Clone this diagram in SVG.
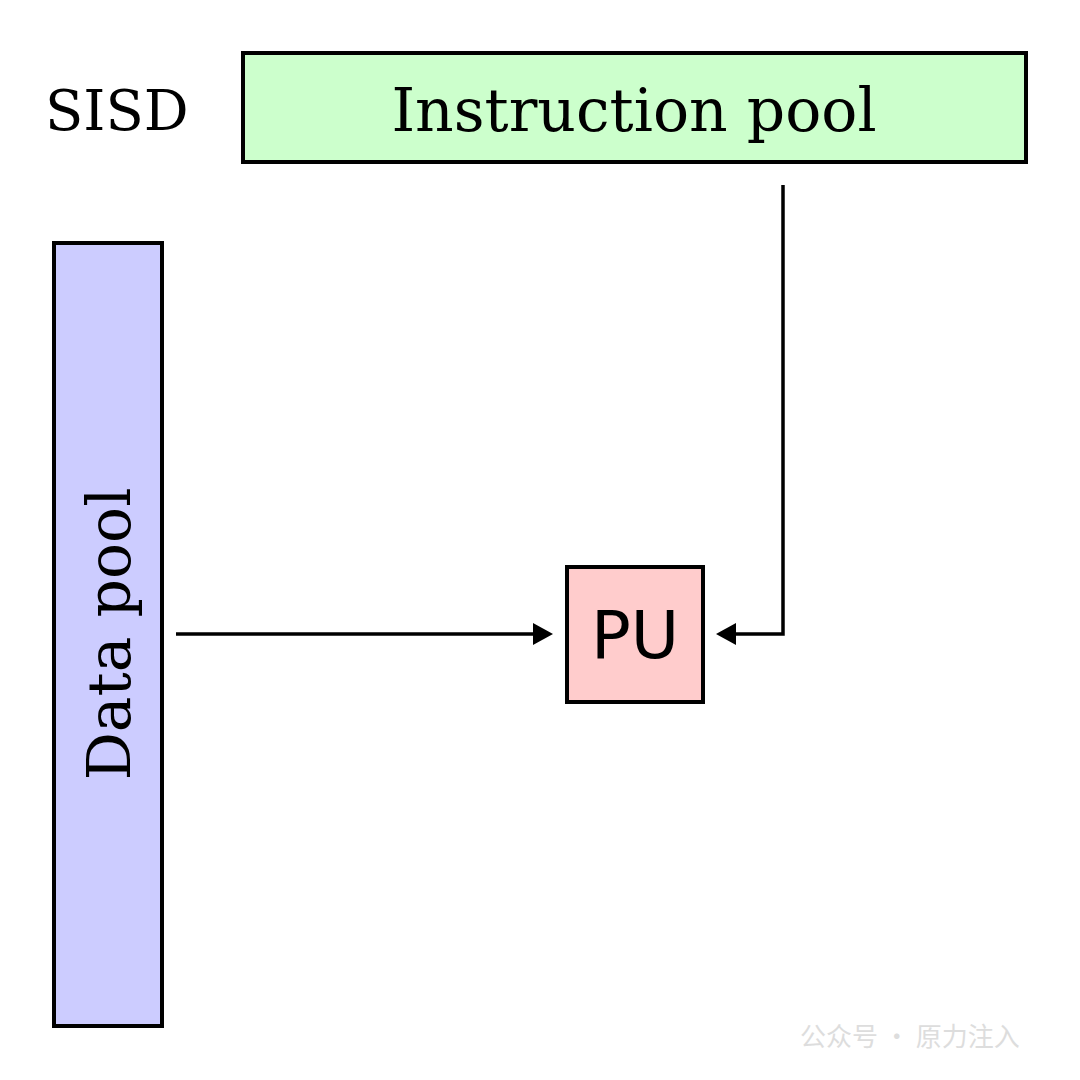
<svg xmlns="http://www.w3.org/2000/svg" width="1080" height="1080" viewBox="0 0 1080 1080">
<style>
.box{stroke:#000;stroke-width:4}
.serif{font-family:"DejaVu Serif","Liberation Serif",serif;fill:#000}
.conn{stroke:#000;stroke-width:3.5;fill:none}
</style>
<defs>
<marker id="ah" viewBox="0 0 10 10" refX="9" refY="5" markerWidth="6" markerHeight="6" markerUnits="userSpaceOnUse" orient="auto" style="overflow:visible">
<path d="M0,0 L10,5 L0,10 Z" fill="#000" transform="scale(2.2) translate(-5.5,-2.7)"/>
</marker>
</defs>
<rect width="1080" height="1080" fill="#fff"/>
<text class="serif" x="45" y="130" font-size="56">SISD</text>
<g id="instruction-pool">
<rect class="box" x="243" y="53" width="783" height="109" fill="#ccffcc"/>
<text class="serif" x="634" y="131" font-size="60" text-anchor="middle">Instruction pool</text>
</g>
<g id="data-pool">
<rect class="box" x="54" y="243" width="108" height="783" fill="#ccccff"/>
<text class="serif" transform="translate(130,634) rotate(-90)" font-size="60" text-anchor="middle">Data pool</text>
</g>
<g id="pu">
<rect class="box" x="567" y="567" width="136" height="135" fill="#ffcccc"/>
<text x="635" y="658" font-size="66" text-anchor="middle" font-family="DejaVu Sans,sans-serif">PU</text>
</g>
<g id="connectors">
<line class="conn" x1="176" y1="634" x2="536" y2="634"/>
<path d="M553,634 L533,623 L533,645 Z"/>
<polyline class="conn" points="783,185 783,634 734,634"/>
<path d="M716,634 L736,623 L736,645 Z"/>
</g>
<text x="800" y="1046" font-size="26" fill="#ddd" font-family="Noto Sans CJK SC,sans-serif">公众号 · 原力注入</text>
</svg>
